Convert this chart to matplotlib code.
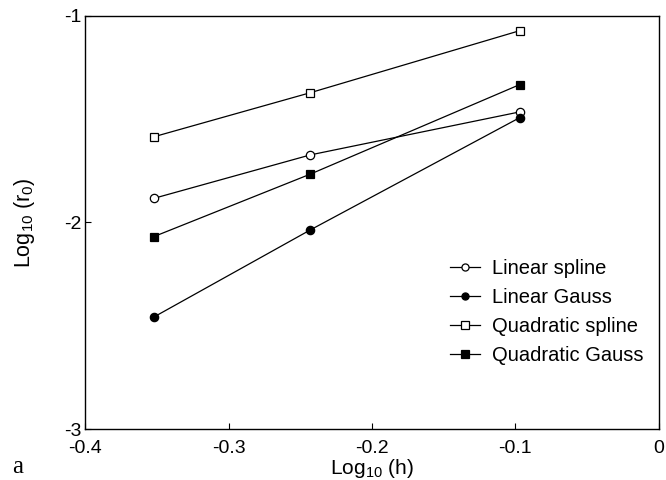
import numpy as np
import matplotlib.pyplot as plt

plt.rcParams['font.family'] = ['Liberation Sans', 'DejaVu Sans']
plt.rcParams['axes.unicode_minus'] = False
plt.rcParams['mathtext.fontset'] = 'custom'
plt.rcParams['mathtext.rm'] = 'Liberation Sans'

# log10(h) for h = 4/9, 4/7, 4/5
log_h = [-0.352, -0.243, -0.097]

linear_spline = [-1.883, -1.673, -1.465]
linear_gauss = [-2.457, -2.036, -1.493]
quad_spline = [-1.585, -1.372, -1.072]
quad_gauss = [-2.068, -1.766, -1.333]

series = [
    ('Linear spline', linear_spline, 'o', 'white'),
    ('Linear Gauss', linear_gauss, 'o', 'black'),
    ('Quadratic spline', quad_spline, 's', 'white'),
    ('Quadratic Gauss', quad_gauss, 's', 'black'),
]

fig = plt.figure(figsize=(6.66, 4.8), dpi=100)
ax = fig.add_axes([0.128, 0.106, 0.861, 0.861])

for name, vals, mk, fc in series:
    ax.plot(log_h, vals, color='black', lw=0.9, marker=mk, markersize=6,
            markerfacecolor=fc, markeredgecolor='black', markeredgewidth=0.9,
            label=name)

ax.set_xlim(-0.4, 0)
ax.set_ylim(-3, -1)
ax.set_xticks([-0.4, -0.3, -0.2, -0.1, 0])
ax.set_xticklabels(['-0.4', '-0.3', '-0.2', '-0.1', '0'])
ax.set_yticks([-3, -2, -1])
ax.set_yticklabels(['-3', '-2', '-1'])
ax.tick_params(direction='in', length=4, width=0.8, labelsize=14)
ax.tick_params(axis='x', pad=8)
ax.tick_params(axis='y', pad=3)
for s in ax.spines.values():
    s.set_linewidth(1.0)

ax.set_xlabel('Log$_{10}$ (h)', fontsize=15, labelpad=0)
ax.set_ylabel('Log$_{10}$ (r$_0$)', fontsize=15.5, labelpad=19)

ax.legend(loc='upper left', bbox_to_anchor=(450 / 666, 1 - 259 / 480),
          bbox_transform=fig.transFigure, frameon=False, borderpad=0,
          borderaxespad=0, fontsize=14.5, handlelength=1.5,
          handletextpad=0.6, labelspacing=0.5, markerscale=0.85)

fig.text(12 / 666, 1 - 473 / 480, 'a', family='Liberation Serif', fontsize=18)

fig.savefig('out.png', dpi=100)
